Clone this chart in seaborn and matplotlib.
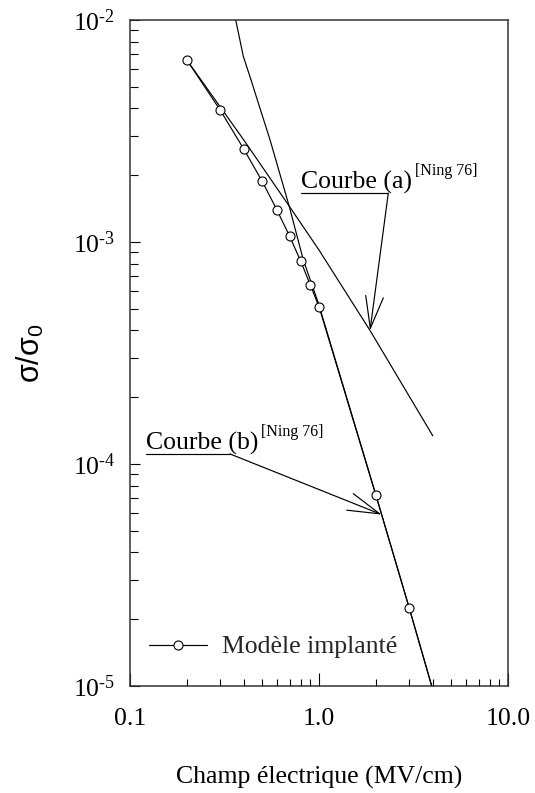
import numpy as np
import pandas as pd
import matplotlib
matplotlib.use("Agg")
import matplotlib.pyplot as plt
from matplotlib.lines import Line2D
from matplotlib.ticker import LogLocator, NullFormatter, FixedLocator, FixedFormatter
import seaborn as sns

# Implemented model: electric field (MV/cm) and normalised conductivity
field_model = [0.2, 0.3, 0.4, 0.5, 0.6, 0.7, 0.8, 0.9, 1.0, 2.0, 3.0, 4.0]
sigma_model = [6.6e-3, 3.93e-3, 2.62e-3, 1.88e-3, 1.39e-3, 1.06e-3,
               8.2e-4, 6.4e-4, 5.11e-4, 7.23e-5, 2.25e-5, 9.6e-6]
n_marked = 11  # the last point only carries the line below the frame

# Ning 76, curve (a)
field_a = [0.2, 0.4, 0.7, 1.0, 1.86, 4.0]
sigma_a = [6.6e-3, 2.88e-3, 1.44e-3, 9.2e-4, 4.0e-4, 1.34e-4]

# Ning 76, curve (b)
field_b = [0.3625, 0.398, 0.437, 0.472, 0.551, 0.697, 0.826, 0.992, 2.0, 3.0, 3.95]
sigma_b = [1.0e-2, 6.84e-3, 5.37e-3, 4.36e-3, 2.88e-3, 1.44e-3, 8.3e-4,
           5.31e-4, 7.25e-5, 2.25e-5, 1.0e-5]

x_ticks = [0.1, 1.0, 10.0]
x_tick_labels = ["0.1", "1.0", "10.0"]
y_ticks = [1e-5, 1e-4, 1e-3, 1e-2]
y_exponents = ["-5", "-4", "-3", "-2"]

label_model = "Modèle implanté"
label_a = "Courbe (a)"
label_b = "Courbe (b)"
ref_tag = "[Ning 76]"

sns.set_theme(style="ticks")
plt.rcParams["font.family"] = ["Liberation Serif", "DejaVu Serif"]
plt.rcParams["mathtext.fontset"] = "custom"
plt.rcParams["mathtext.rm"] = "Liberation Serif"
plt.rcParams["mathtext.it"] = "Liberation Serif:italic"
plt.rcParams["mathtext.sf"] = "Liberation Sans"

FS = 18.5
INK = "black"
LW = 0.85

fig = plt.figure(figsize=(5.35, 7.93), dpi=100)
ax = fig.add_axes([130 / 535, 107 / 793, 378 / 535, 666 / 793])
ax.set_xscale("log")
ax.set_yscale("log")

df_model = pd.DataFrame({"E": field_model, "s": sigma_model})
df_a = pd.DataFrame({"E": field_a, "s": sigma_a})
df_b = pd.DataFrame({"E": field_b, "s": sigma_b})

sns.lineplot(data=df_a, x="E", y="s", ax=ax, color=INK, lw=LW, sort=False,
             estimator=None, legend=False)
sns.lineplot(data=df_b, x="E", y="s", ax=ax, color=INK, lw=LW, sort=False,
             estimator=None, legend=False)
sns.lineplot(data=df_model, x="E", y="s", ax=ax, color=INK, lw=LW, sort=False,
             estimator=None, legend=False, marker="o", markersize=6.5,
             markerfacecolor="white", markeredgecolor=INK, markeredgewidth=0.8,
             markevery=list(range(n_marked)), zorder=5)

ax.set_xlim(0.1, 10.0)
ax.set_ylim(1e-5, 1e-2)

# ticks
ax.xaxis.set_major_locator(FixedLocator(x_ticks))
ax.xaxis.set_major_formatter(FixedFormatter(x_tick_labels))
ax.xaxis.set_minor_locator(LogLocator(base=10, subs=np.arange(2, 10)))
ax.xaxis.set_minor_formatter(NullFormatter())
ax.yaxis.set_major_locator(FixedLocator(y_ticks))
ax.yaxis.set_major_formatter(FixedFormatter(
    [r"$\mathrm{10}^{\text{" + e + "}}$" for e in y_exponents]))
ax.yaxis.set_minor_locator(LogLocator(base=10, subs=np.arange(2, 10)))
ax.yaxis.set_minor_formatter(NullFormatter())

ax.tick_params(axis="x", which="major", direction="in", length=9.4, width=0.8,
               pad=15.5, labelsize=FS, colors=INK, top=False)
ax.tick_params(axis="x", which="minor", direction="in", length=5.0, width=0.8,
               top=False, colors=INK)
ax.tick_params(axis="y", which="major", direction="in", length=7.2, width=0.8,
               pad=10.5, labelsize=FS, colors=INK, right=False)
ax.tick_params(axis="y", which="minor", direction="in", length=5.8, width=0.8,
               right=False, colors=INK)
for sp in ax.spines.values():
    sp.set_visible(True)
    sp.set_color("#333333")
    sp.set_linewidth(1.1)

ax.set_xlabel("Champ électrique (MV/cm)", fontsize=FS, color=INK, va="center")
ax.xaxis.set_label_coords(0.5, (686 - 777) / 666)
ax.set_ylabel(r"σ/σ$_\mathsf{0}$", fontsize=22, color=INK,
              family=["Liberation Sans", "DejaVu Sans"], va="center")
ax.yaxis.set_label_coords((31 - 130) / 378, 0.5)


def loginterp(x, xs, ys):
    return 10 ** np.interp(np.log10(x), np.log10(xs), np.log10(ys))


def callout(text, x_text, y_base, x_under_end, y_under, x_tip, xs, ys):
    t = ax.text(x_text, y_base, text, fontsize=FS, color=INK, ha="left",
                va="baseline")
    ax.annotate(ref_tag, xy=(1, 0), xycoords=t, xytext=(2, 14),
                textcoords="offset points", fontsize=11.5, color=INK,
                ha="left", va="baseline")
    ax.plot([x_text, x_under_end], [y_under, y_under], color=INK, lw=LW)
    tip = (x_tip, loginterp(x_tip, xs, ys))
    ax.annotate("", xy=tip, xytext=(x_under_end, y_under),
                arrowprops=dict(arrowstyle="->,head_length=1.15,head_width=0.32",
                                color=INK, lw=LW, shrinkA=0, shrinkB=0,
                                mutation_scale=20))


callout(label_a, 0.804, 1.74e-3, 2.326, 1.66e-3, 1.862, field_a, sigma_a)
callout(label_b, 0.121, 1.16e-4, 0.338, 1.11e-4, 2.146, field_b, sigma_b)

handle = Line2D([], [], color=INK, lw=LW, marker="o", markersize=6.5,
                markerfacecolor="white", markeredgecolor=INK, markeredgewidth=0.8)
ax.legend([handle], [label_model], loc="center left",
          bbox_to_anchor=((149 - 130) / 378, (686 - 647) / 666),
          frameon=False, fontsize=FS, handlelength=2.26, handletextpad=0.58,
          borderpad=0, borderaxespad=0, numpoints=1)

fig.savefig("out.png", dpi=100)
